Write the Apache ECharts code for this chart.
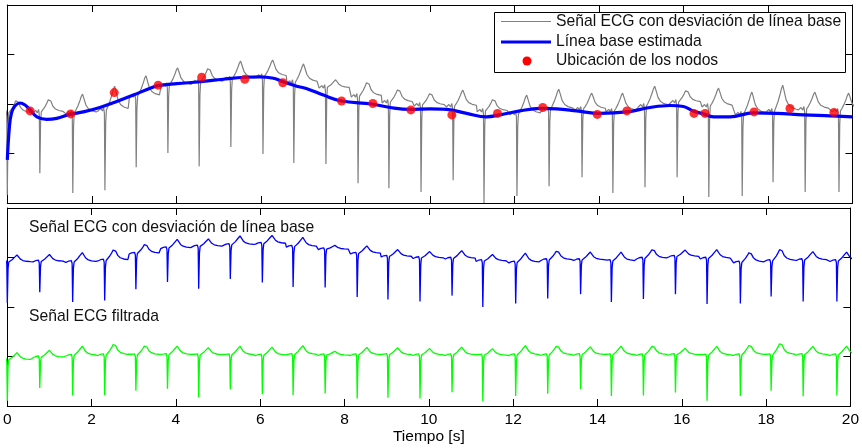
<!DOCTYPE html>
<html>
<head>
<meta charset="utf-8">
<script src="https://cdn.jsdelivr.net/npm/echarts@6/dist/echarts.min.js"></script>
<style>
  html, body { margin: 0; padding: 0; background: #ffffff; }
  #chart { width: 862px; height: 448px; }
</style>
</head>
<body>
<div id="chart"></div>
<script>
// ---- ECG record: one entry per heartbeat (time of the main deflection, seconds) ----
const beatTimes = [0.00, 0.77, 1.55, 2.31, 3.05, 3.80, 4.54, 5.29, 6.05, 6.78, 7.54, 8.30, 9.03, 9.79,
                   10.55, 11.28, 12.06, 12.82, 13.60, 14.33, 15.09, 15.85, 16.60, 17.39, 18.12, 18.88, 19.68];
// isoelectric level of the raw signal just before each beat
const rawLevels = [-0.20, -0.18, -0.20, -0.14, 0.14, 0.36, 0.43, 0.49, 0.54, 0.42, 0.32, 0.14, 0.02, -0.04,
                   -0.06, -0.16, -0.22, -0.12, -0.12, -0.16, -0.06, 0.02, -0.06, -0.22, -0.16, -0.12, -0.16];
// lowest value of each main (negative) deflection
const deflectionMins = [-1.84, -1.40, -1.80, -1.74, -1.28, -0.99, -1.26, -0.87, -1.01, -1.19, -1.21, -1.60, -1.70, -1.78,
                        -1.54, -2.00, -1.86, -1.66, -1.48, -1.80, -1.68, -1.48, -1.88, -1.86, -1.58, -1.78, -1.78];
// peak of each T wave
const tWavePeaks = [0.10, 0.12, 0.20, 0.36, 0.57, 0.73, 0.75, 0.87, 0.89, 0.81, 0.49, 0.47, 0.32, 0.24,
                    0.28, 0.12, 0.18, 0.30, 0.22, 0.22, 0.36, 0.30, 0.32, 0.24, 0.38, 0.24, 0.22];
// isoelectric level of the filtered signal around each beat
const filteredLevels = [-0.15, -0.05, 0.02, 0.04, 0.04, 0.05, 0.04, 0.04, 0.03, 0.05, 0.04, 0.04, 0.05, 0.04,
                        0.04, 0.03, 0.04, 0.04, 0.05, 0.04, 0.04, 0.05, 0.03, 0.04, 0.04, 0.05, 0.04];

// ---- shape of one beat, sampled around the main deflection ----
const waveOffsets    = [-0.16, -0.10, -0.06, -0.03, -0.012, 0, 0.018, 0.035, 0.07, 0.12, 0.17, 0.20, 0.23, 0.26, 0.31, 0.37, 0.45, 0.55];
const waveDeflection = [0, 0, 0, 0, 0, 1, 0.15, 0, 0, 0, 0, 0, 0, 0, 0, 0, 0, 0];
const waveTWave      = [0, 0, 0, 0, 0, 0, 0, 0, 0.18, 0.4, 0.68, 0.88, 1, 0.8, 0.45, 0.26, 0.16, 0.1];
const waveStep       = [0, 0.05, 0, 0.07, -0.05, 0, 0, 0.02, 0, 0, 0, 0, 0, 0, 0, 0, 0, 0];

// ---- estimated baseline wander (spline through the nodes) ----
const baselineTimes  = [0.00, 0.05, 0.10, 0.18, 0.30, 0.42, 0.54, 0.70, 0.93, 1.17, 1.48, 1.80, 2.19, 2.59, 2.98, 3.38,
                        3.57, 4.01, 4.56, 5.11, 5.62, 5.98, 6.30, 6.53, 6.85, 7.09, 7.48, 7.91, 8.62, 9.06, 9.53, 10.00,
                        10.40, 10.87, 11.34, 11.66, 12.13, 12.61, 13.00, 13.47, 14.02, 14.66, 15.21, 15.68, 16.00, 16.23,
                        16.47, 16.71, 17.10, 17.65, 18.21, 18.84, 19.47, 20.00];
const baselineValues = [-1.13, -0.46, -0.18, -0.04, 0.02, -0.02, -0.12, -0.26, -0.31, -0.29, -0.21, -0.16, -0.07, 0.05, 0.18, 0.32,
                        0.37, 0.41, 0.45, 0.50, 0.54, 0.55, 0.52, 0.45, 0.36, 0.31, 0.18, 0.06, 0.00, -0.07, -0.11, -0.10,
                        -0.11, -0.19, -0.26, -0.22, -0.14, -0.09, -0.10, -0.14, -0.19, -0.16, -0.07, -0.03, -0.05, -0.14,
                        -0.20, -0.26, -0.26, -0.18, -0.19, -0.22, -0.24, -0.26];
// spline nodes
const nodeTimes  = [0.54, 1.50, 2.53, 3.57, 4.60, 5.62, 6.52, 7.91, 8.65, 9.55, 10.52, 11.60, 12.67, 13.96, 14.66, 16.25, 16.51, 17.67, 18.52, 19.56];
const nodeValues = [-0.14, -0.20, 0.23, 0.38, 0.54, 0.50, 0.43, 0.06, 0.01, -0.12, -0.22, -0.19, -0.07, -0.21, -0.14, -0.19, -0.19, -0.16, -0.09, -0.17];

const xTicks = [0, 2, 4, 6, 8, 10, 12, 14, 16, 18, 20];

// vertical placement of the two traces in the lower panel
const RAW_SHIFT = 2;
const FILTERED_SHIFT = -2;

// build a trace: every beat contributes its sampled shape around its level
function trace(levels, shift) {
  const pts = [];
  beatTimes.forEach((t0, i) => {
    const L = levels[i];
    const depth = deflectionMins[i] - rawLevels[i];
    const tHeight = tWavePeaks[i] - rawLevels[i];
    waveOffsets.forEach((dt, k) => {
      const v = L + waveDeflection[k] * depth + waveTWave[k] * tHeight + waveStep[k];
      pts.push([+(t0 + dt).toFixed(3), +(v + shift).toFixed(3)]);
    });
  });
  return pts;
}

const rawSignal = trace(rawLevels, 0);
const rawShifted = trace(rawLevels, RAW_SHIFT);
const filteredShifted = trace(filteredLevels, FILTERED_SHIFT);
const baseline = baselineTimes.map((t, i) => [t, baselineValues[i]]);
const nodes = nodeTimes.map((t, i) => [t, nodeValues[i]]);

const FONT = '"Liberation Sans", Arial, Helvetica, sans-serif';
const TEXT_FONT = '15.7px ' + FONT;
const black = '#000000';

function xAxisDef(grid, pos, labels) {
  return {
    type: 'value', gridIndex: grid, position: pos, min: xTicks[0], max: xTicks[xTicks.length - 1],
    interval: xTicks[1] - xTicks[0],
    axisLine: { show: true, onZero: false, lineStyle: { color: black, width: 1 } },
    axisTick: { show: true, inside: true, length: 7, lineStyle: { color: black, width: 1 } },
    axisLabel: { show: labels, color: black, fontSize: 15.5, fontFamily: FONT, margin: 6 },
    splitLine: { show: false },
    name: labels ? 'Tiempo [s]' : '',
    nameLocation: 'middle', nameGap: 23,
    nameTextStyle: { color: black, fontSize: 15.5, fontFamily: FONT }
  };
}
function yAxisDef(grid, pos, lim, step) {
  return {
    type: 'value', gridIndex: grid, position: pos, min: -lim, max: lim, interval: step,
    axisLine: { show: true, onZero: false, lineStyle: { color: black, width: 1 } },
    axisTick: { show: true, inside: true, length: 7, lineStyle: { color: black, width: 1 } },
    axisLabel: { show: false },
    splitLine: { show: false }
  };
}

const chart = echarts.init(document.getElementById('chart'), null, { renderer: 'canvas' });
chart.setOption({
  animation: false,
  backgroundColor: '#ffffff',
  grid: [
    { left: 7.3, right: 9.5, top: 5, height: 198 },
    { left: 7.3, right: 9.5, top: 208, height: 198 }
  ],
  xAxis: [xAxisDef(0, 'bottom', false), xAxisDef(0, 'top', false), xAxisDef(1, 'bottom', true), xAxisDef(1, 'top', false)],
  yAxis: [yAxisDef(0, 'left', 2, 1), yAxisDef(0, 'right', 2, 1), yAxisDef(1, 'left', 4, 2), yAxisDef(1, 'right', 4, 2)],
  series: [
    {
      name: 'Señal ECG con desviación de línea base', type: 'line', xAxisIndex: 0, yAxisIndex: 0,
      data: rawSignal, showSymbol: false, lineStyle: { color: '#808080', width: 1.2 }, z: 2, clip: true
    },
    {
      name: 'Línea base estimada', type: 'line', xAxisIndex: 0, yAxisIndex: 0, smooth: 0.4,
      data: baseline, showSymbol: false, lineStyle: { color: '#0000ff', width: 3.2 }, z: 3, clip: true
    },
    {
      name: 'Ubicación de los nodos', type: 'scatter', xAxisIndex: 0, yAxisIndex: 0,
      data: nodes, symbol: 'circle', symbolSize: 9, itemStyle: { color: '#ff0000' }, z: 4
    },
    {
      name: 'ECG con desviación', type: 'line', xAxisIndex: 2, yAxisIndex: 2,
      data: rawShifted, showSymbol: false, lineStyle: { color: '#0000ff', width: 1.3 }, z: 2, clip: true
    },
    {
      name: 'ECG filtrada', type: 'line', xAxisIndex: 2, yAxisIndex: 2,
      data: filteredShifted, showSymbol: false, lineStyle: { color: '#00ff00', width: 1.3 }, z: 2, clip: true
    }
  ],
  graphic: [
    // legend of the upper panel
    { type: 'rect', z: 20, shape: { x: 494.5, y: 12.5, width: 351, height: 60 },
      style: { fill: '#ffffff', stroke: black, lineWidth: 1 } },
    { type: 'line', z: 21, shape: { x1: 501, y1: 21.5, x2: 551, y2: 21.5 },
      style: { stroke: '#808080', lineWidth: 1.2 } },
    { type: 'line', z: 21, shape: { x1: 501, y1: 42, x2: 551, y2: 42 },
      style: { stroke: '#0000ff', lineWidth: 3.2 } },
    { type: 'circle', z: 21, shape: { cx: 527, cy: 61, r: 4.5 },
      style: { fill: '#ff0000' } },
    { type: 'text', z: 21, x: 556, y: 21.5,
      style: { text: 'Señal ECG con desviación de línea base', font: TEXT_FONT, fill: '#111', verticalAlign: 'middle' } },
    { type: 'text', z: 21, x: 556, y: 42,
      style: { text: 'Línea base estimada', font: TEXT_FONT, fill: '#111', verticalAlign: 'middle' } },
    { type: 'text', z: 21, x: 556, y: 61,
      style: { text: 'Ubicación de los nodos', font: TEXT_FONT, fill: '#111', verticalAlign: 'middle' } },
    // captions of the lower panel
    { type: 'text', z: 21, x: 29, y: 228,
      style: { text: 'Señal ECG con desviación de línea base', font: TEXT_FONT, fill: '#111', verticalAlign: 'middle' } },
    { type: 'text', z: 21, x: 29, y: 317,
      style: { text: 'Señal ECG filtrada', font: TEXT_FONT, fill: '#111', verticalAlign: 'middle' } }
  ]
});
</script>
</body>
</html>
